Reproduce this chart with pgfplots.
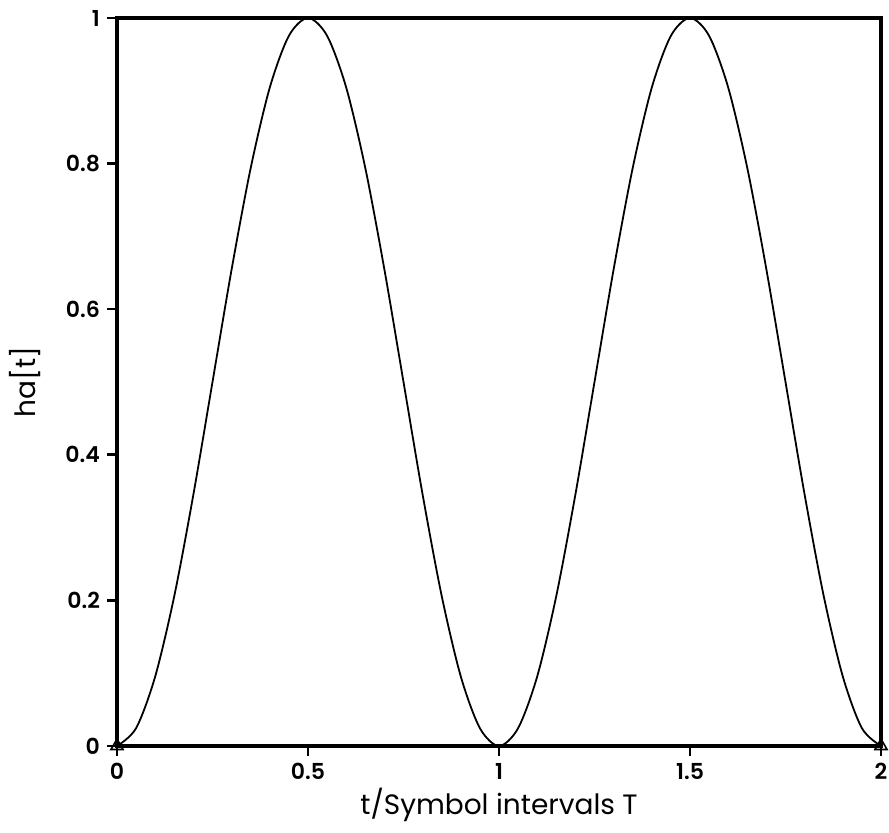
\documentclass[border=0pt]{standalone}
\usepackage{fontspec}
\setmainfont{Poppins}
\newfontfamily\tickfont{Poppins SemiBold}
\usepackage{pgfplots}
\pgfplotsset{compat=1.18}
\begin{document}
\begin{tikzpicture}
\path[use as bounding box] (0,0) rectangle (444.5pt,416.5pt);
\begin{axis}[
  at={(58.5pt,43.5pt)}, anchor=south west,
  scale only axis,
  width=382pt, height=364pt,
  xmin=0, xmax=2, ymin=0, ymax=1,
  xtick={0,0.5,1,1.5,2}, xticklabels={0,0.5,1,1.5,2},
  ytick={0,0.2,0.4,0.6,0.8,1}, yticklabels={0,0.2,0.4,0.6,0.8,1},
  xtick pos=bottom, ytick pos=left,
  tick align=outside,
  major tick length=5pt,
  major tick style={black, line width=1.3pt},
  axis line style={line width=2pt},
  tick label style={font=\tickfont\fontsize{11}{13}\selectfont},
  xlabel={t/Symbol intervals T}, ylabel={ha[t]},
  label style={font=\fontsize{14}{16}\selectfont},
  xlabel style={at={(axis description cs:0.5,-0.081)}, anchor=center},
  ylabel style={at={(axis description cs:-0.1204,0.5)}, anchor=center},
  clip=false,
]
\addplot[black, line width=0.9pt, smooth] coordinates {
(0,0) (0.05,0.02447) (0.10,0.09549) (0.15,0.20611) (0.20,0.34549) (0.25,0.5)
(0.30,0.65451) (0.35,0.79389) (0.40,0.90451) (0.45,0.97553) (0.50,1)
(0.55,0.97553) (0.60,0.90451) (0.65,0.79389) (0.70,0.65451) (0.75,0.5)
(0.80,0.34549) (0.85,0.20611) (0.90,0.09549) (0.95,0.02447) (1.00,0)
(1.05,0.02447) (1.10,0.09549) (1.15,0.20611) (1.20,0.34549) (1.25,0.5)
(1.30,0.65451) (1.35,0.79389) (1.40,0.90451) (1.45,0.97553) (1.50,1)
(1.55,0.97553) (1.60,0.90451) (1.65,0.79389) (1.70,0.65451) (1.75,0.5)
(1.80,0.34549) (1.85,0.20611) (1.90,0.09549) (1.95,0.02447) (2.00,0)
};
\addplot[black, only marks, mark=triangle, mark size=3.5pt, line width=0.8pt] coordinates {(0,0) (2,0)};
\end{axis}
\end{tikzpicture}
\end{document}
